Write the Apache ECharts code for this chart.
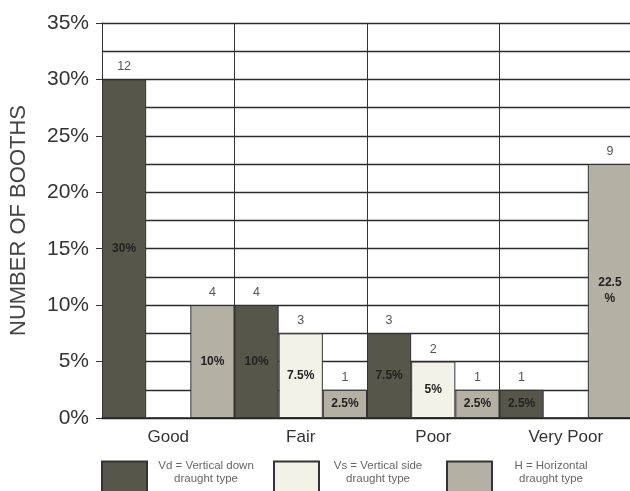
<!DOCTYPE html>
<html>
<head>
<meta charset="utf-8">
<title>Booth ratings</title>
<script src="https://cdn.jsdelivr.net/npm/echarts@6.0.0/dist/echarts.min.js"></script>
<style>
  html, body { margin: 0; padding: 0; background: #fff; }
  #chart { width: 630px; height: 491px; }
</style>
</head>
<body>
<div id="chart"></div>
<script>
// ratings along the x axis
var categories = ['Good', 'Fair', 'Poor', 'Very Poor'];

// percentage of booths per draught type ('-' = no bar)
var vdPct = [30, 10, 7.5, 2.5];
var vsPct = ['-', 7.5, 5, '-'];
var hPct = [10, 2.5, 2.5, 22.5];

// number of booths shown above each bar
var vdCount = [12, 4, 3, 1];
var vsCount = ['-', 3, 2, '-'];
var hCount = [4, 1, 1, 9];

var typeLabels = {
  Vd: ['Vd = Vertical down', 'draught type'],
  Vs: ['Vs = Vertical side', 'draught type'],
  H: ['H = Horizontal', 'draught type']
};
var typeColors = { Vd: '#57564a', Vs: '#f3f2e8', H: '#b3b1a4' };

var FONT = '"Liberation Sans", Arial, Helvetica, sans-serif';

// bar with the percentage written inside
function pctSeries(name, data) {
  return {
    name: name,
    type: 'bar',
    stack: name,
    stackStrategy: 'all',
    data: data,
    barGap: '0%',
    barCategoryGap: '0%',
    itemStyle: { color: typeColors[name], borderColor: '#333', borderWidth: 1 },
    label: {
      show: true,
      position: 'inside',
      formatter: function (p) { return p.value + '%'; },
      fontFamily: FONT,
      fontSize: 12,
      fontWeight: 'bold',
      color: '#222',
      width: 32,
      overflow: 'breakAll',
      lineHeight: 16
    }
  };
}

// zero-height bar stacked on top, only to hold the count label
function countSeries(name, pct, counts) {
  var d = pct.map(function (v) { return v === '-' ? '-' : 0; });
  return {
    name: name + ' count',
    type: 'bar',
    stack: name,
    stackStrategy: 'all',
    data: d,
    silent: true,
    itemStyle: { color: 'rgba(0,0,0,0)', borderWidth: 0 },
    label: {
      show: true,
      position: 'top',
      distance: 6,
      formatter: function (p) { return counts[p.dataIndex]; },
      fontFamily: FONT,
      fontSize: 12.5,
      color: '#555'
    }
  };
}

function legendFor(name, left) {
  return {
    data: [{ name: name, icon: 'rect' }],
    left: left,
    top: 455,
    itemWidth: 45,
    itemHeight: 38,
    selectedMode: false,
    formatter: function (n) {
      return '{a|' + typeLabels[n][0] + '}\n{a|' + typeLabels[n][1] + '}';
    },
    textStyle: {
      rich: {
        a: { fontFamily: FONT, fontSize: 11.5, color: '#666', width: 108, align: 'center', lineHeight: 13 }
      },
      padding: [0, 0, 16, 0]
    }
  };
}

var chart = echarts.init(document.getElementById('chart'), null, { renderer: 'canvas' });

chart.setOption({
  backgroundColor: '#fff',
  animation: false,
  textStyle: { fontFamily: FONT },
  grid: { left: 102, top: 23, width: 530, height: 395, containLabel: false, outerBoundsMode: 'none' },
  legend: [legendFor('Vd', 96), legendFor('Vs', 268), legendFor('H', 441)],
  xAxis: {
    type: 'category',
    data: categories,
    axisLine: { lineStyle: { color: '#222', width: 1.5 } },
    axisTick: { show: false },
    axisLabel: { fontFamily: FONT, fontSize: 17, color: '#333', margin: 11 },
    splitLine: { show: true, interval: 0, lineStyle: { color: '#333', width: 1 } }
  },
  yAxis: {
    type: 'value',
    min: 0,
    max: 35,
    interval: 5,
    name: 'NUMBER OF BOOTHS',
    nameLocation: 'middle',
    nameRotate: 90,
    nameGap: 72,
    nameTextStyle: { fontFamily: FONT, fontSize: 22, color: '#444' },
    axisLine: { show: true, lineStyle: { color: '#333', width: 1 } },
    axisTick: { show: true, length: 6, lineStyle: { color: '#333' } },
    axisLabel: { formatter: '{value}%', fontFamily: FONT, fontSize: 21, color: '#333', margin: 13 },
    splitLine: { show: true, lineStyle: { color: '#2a2a2a', width: 1.3 } },
    minorTick: { show: false, splitNumber: 2 },
    minorSplitLine: { show: true, lineStyle: { color: '#2a2a2a', width: 1.3 } }
  },
  series: [
    pctSeries('Vd', vdPct),
    countSeries('Vd', vdPct, vdCount),
    pctSeries('Vs', vsPct),
    countSeries('Vs', vsPct, vsCount),
    pctSeries('H', hPct),
    countSeries('H', hPct, hCount)
  ]
});
</script>
</body>
</html>
